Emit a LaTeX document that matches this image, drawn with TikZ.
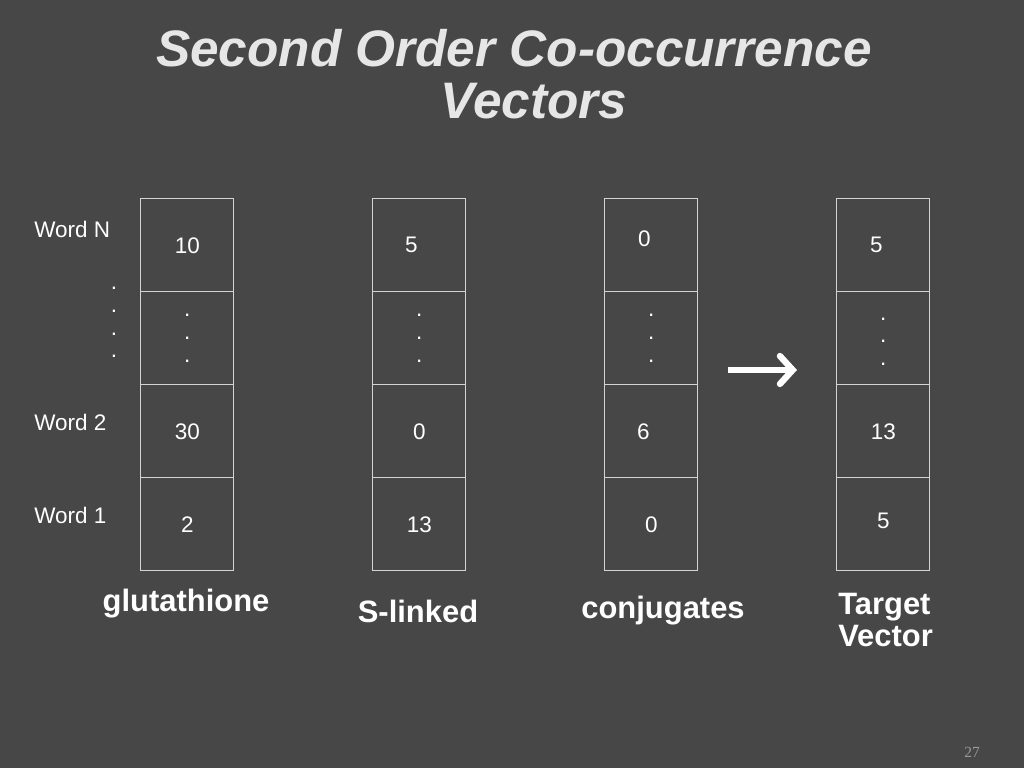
\documentclass[tikz,border=0pt]{standalone}
\usepackage{fontspec}
\setmainfont{Liberation Sans}
\newfontfamily\pagefont{Liberation Serif}
\usetikzlibrary{arrows.meta,positioning}
\definecolor{slidebg}{HTML}{474747}
\definecolor{boxline}{HTML}{D4D4D4}
\definecolor{titlegray}{HTML}{E6E6E6}
\begin{document}
\begin{tikzpicture}
        \tikzstyle{cell}=[draw=boxline, line width=0.8pt, minimum width=2.325cm, minimum height=2.325cm, inner sep=0pt, text=white, align=center, font=\fontsize{16}{16.3}\selectfont]
        \tikzstyle{wordlab}=[anchor=west, inner sep=0pt, text=white, font=\fontsize{16}{16.3}\selectfont]
        \tikzstyle{veclab}=[inner sep=0pt, text=white, font=\fontsize{22}{23.4}\selectfont\bfseries]
        \tikzstyle{col}=[draw=none, inner sep=0pt, anchor=north west, row sep=-0.8pt]

        \fill[slidebg] (0,0) rectangle (25.6,19.2);

        \node (title) [text=titlegray, align=center, font=\fontsize{36.5}{37}\selectfont\bfseries\itshape] at (12.85,17.35) {Second Order Co-occurrence\\\hspace*{1.0cm}Vectors};

        \matrix (glut) [col] at (3.5,14.25) {
            \node (gN) [cell] {10}; \\
            \node (gd) [cell] {.\\.\\.}; \\
            \node (g2) [cell] {30}; \\
            \node (g1) [cell] {2}; \\
        };
        \matrix (slink) [col] at (9.3,14.25) {
            \node (sN) [cell] {\hspace*{-0.4cm}5}; \\
            \node (sd) [cell] {.\\.\\.}; \\
            \node (s2) [cell] {0}; \\
            \node (s1) [cell] {13}; \\
        };
        \matrix (conj) [col] at (15.1,14.25) {
            \node (cN) [cell] {\hspace*{-0.35cm}\raisebox{0.32cm}{0}}; \\
            \node (cd) [cell] {.\\.\\.}; \\
            \node (c2) [cell] {\hspace*{-0.4cm}6}; \\
            \node (c1) [cell] {0}; \\
        };
        \matrix (target) [col] at (20.9,14.25) {
            \node (tN) [cell] {\hspace*{-0.35cm}5}; \\
            \node (td) [cell] {\raisebox{-0.15cm}{\begin{tabular}{@{}c@{}}.\\.\\.\end{tabular}}}; \\
            \node (t2) [cell] {13}; \\
            \node (t1) [cell] {\raisebox{0.2cm}{5}}; \\
        };

        \node (wN) [wordlab] at (0.85,13.475) {Word N};
        \node (w2) [wordlab] at (0.85,8.65) {Word 2};
        \node (w1) [wordlab] at (0.85,6.325) {Word 1};
        \node (wdots) [text=white, align=center, inner sep=0pt, font=\fontsize{16}{16.3}\selectfont] at (2.85,11.14) {.\\.\\.\\.};

        \node (glab) [veclab] at (4.65,4.1) {glutathione};
        \node (slab) [veclab] at (10.45,3.925) {S-linked};
        \node (clab) [veclab] at (16.575,3.925) {conjugates};
        \node (tlab) [veclab, anchor=west, align=left] at (20.95,3.7) {Target\\Vector};

        \coordinate (afrom) at (18.2,9.95);
        \coordinate (ato) at (19.925,9.95);
        \draw[-{Straight Barb[length=3.2mm, width=7mm, line cap=round]}, white, line width=4.5pt] (afrom) -- (ato);

        \node (pnum) [text=gray!80, font=\pagefont\fontsize{11}{12}\selectfont] at (24.3,0.4) {27};
\end{tikzpicture}
\end{document}
